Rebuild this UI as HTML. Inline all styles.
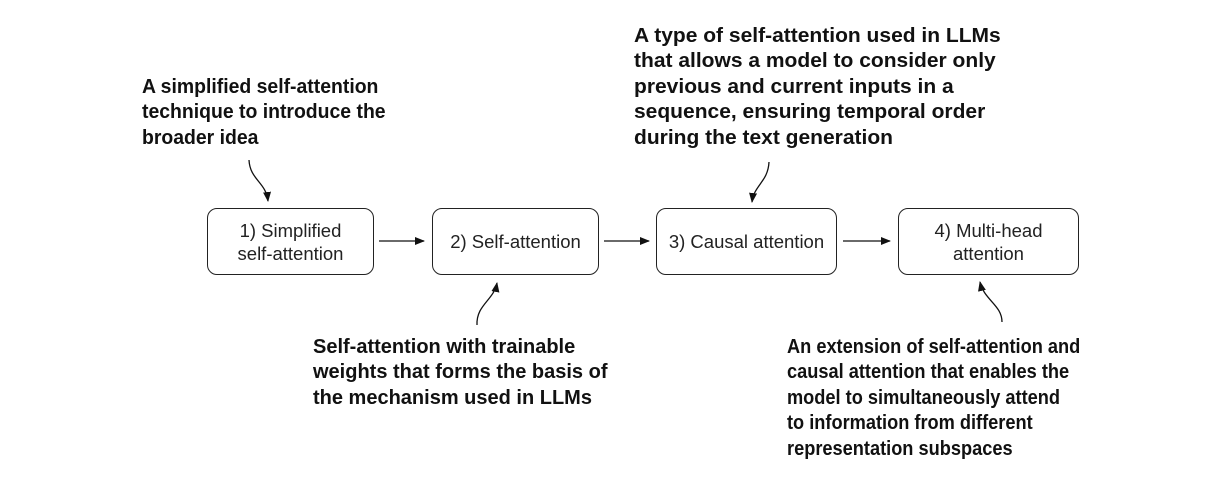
<!DOCTYPE html>
<html><head><style>
body{margin:0;width:1212px;height:487px;background:#fff;position:relative;overflow:hidden}
.b{position:absolute;border:1.5px solid #222;border-radius:10px;box-sizing:border-box;display:flex;align-items:center;justify-content:center;text-align:center;font-family:"Liberation Sans",sans-serif;font-size:18.5px;line-height:23px;color:#222}
.t{position:absolute;font-family:"Liberation Sans",sans-serif;font-weight:bold;font-size:20px;line-height:25.4px;color:#111;transform-origin:0 0;transform:scaleX(0.97);white-space:nowrap}
</style></head><body>
<div class="t" style="left:142px;top:75px">A simplified self-attention<br>technique to introduce the<br>broader idea</div>
<div class="t" style="left:634px;top:24px;transform:scaleX(1.05)">A type of self-attention used in LLMs<br>that allows a model to consider only<br>previous and current inputs in a<br>sequence, ensuring temporal order<br>during the text generation</div>
<div class="t" style="left:313px;top:335px;transform:scaleX(1.0)">Self-attention with trainable<br>weights that forms the basis of<br>the mechanism used in LLMs</div>
<div class="t" style="left:787px;top:335px;transform:scaleX(0.91)">An extension of self-attention and<br>causal attention that enables the<br>model to simultaneously attend<br>to information from different<br>representation subspaces</div>
<div class="b" style="left:207px;top:208px;width:167px;height:67px">1) Simplified<br>self-attention</div>
<div class="b" style="left:432px;top:208px;width:167px;height:67px">2) Self-attention</div>
<div class="b" style="left:656px;top:208px;width:181px;height:67px">3) Causal attention</div>
<div class="b" style="left:898px;top:208px;width:181px;height:67px">4) Multi-head<br>attention</div>
<svg width="1212" height="487" style="position:absolute;left:0;top:0">
<defs><marker id="a" markerWidth="10" markerHeight="8" refX="9" refY="4" orient="auto" markerUnits="userSpaceOnUse"><path d="M0,0L10,4L0,8z" fill="#111"/></marker></defs>
<g stroke="#111" stroke-width="1.3" fill="none" marker-end="url(#a)">
<line x1="379" y1="241" x2="424" y2="241"/>
<line x1="604" y1="241" x2="649" y2="241"/>
<line x1="843" y1="241" x2="890" y2="241"/>
<path d="M249,160 C250,180 266,182 268,201"/>
<path d="M477,325 C476,305 494,300 497,283"/>
<path d="M769,162 C768,182 754,185 752,202"/>
<path d="M1002,322 C1002,305 984,300 980,282"/>
</g></svg>
</body></html>
